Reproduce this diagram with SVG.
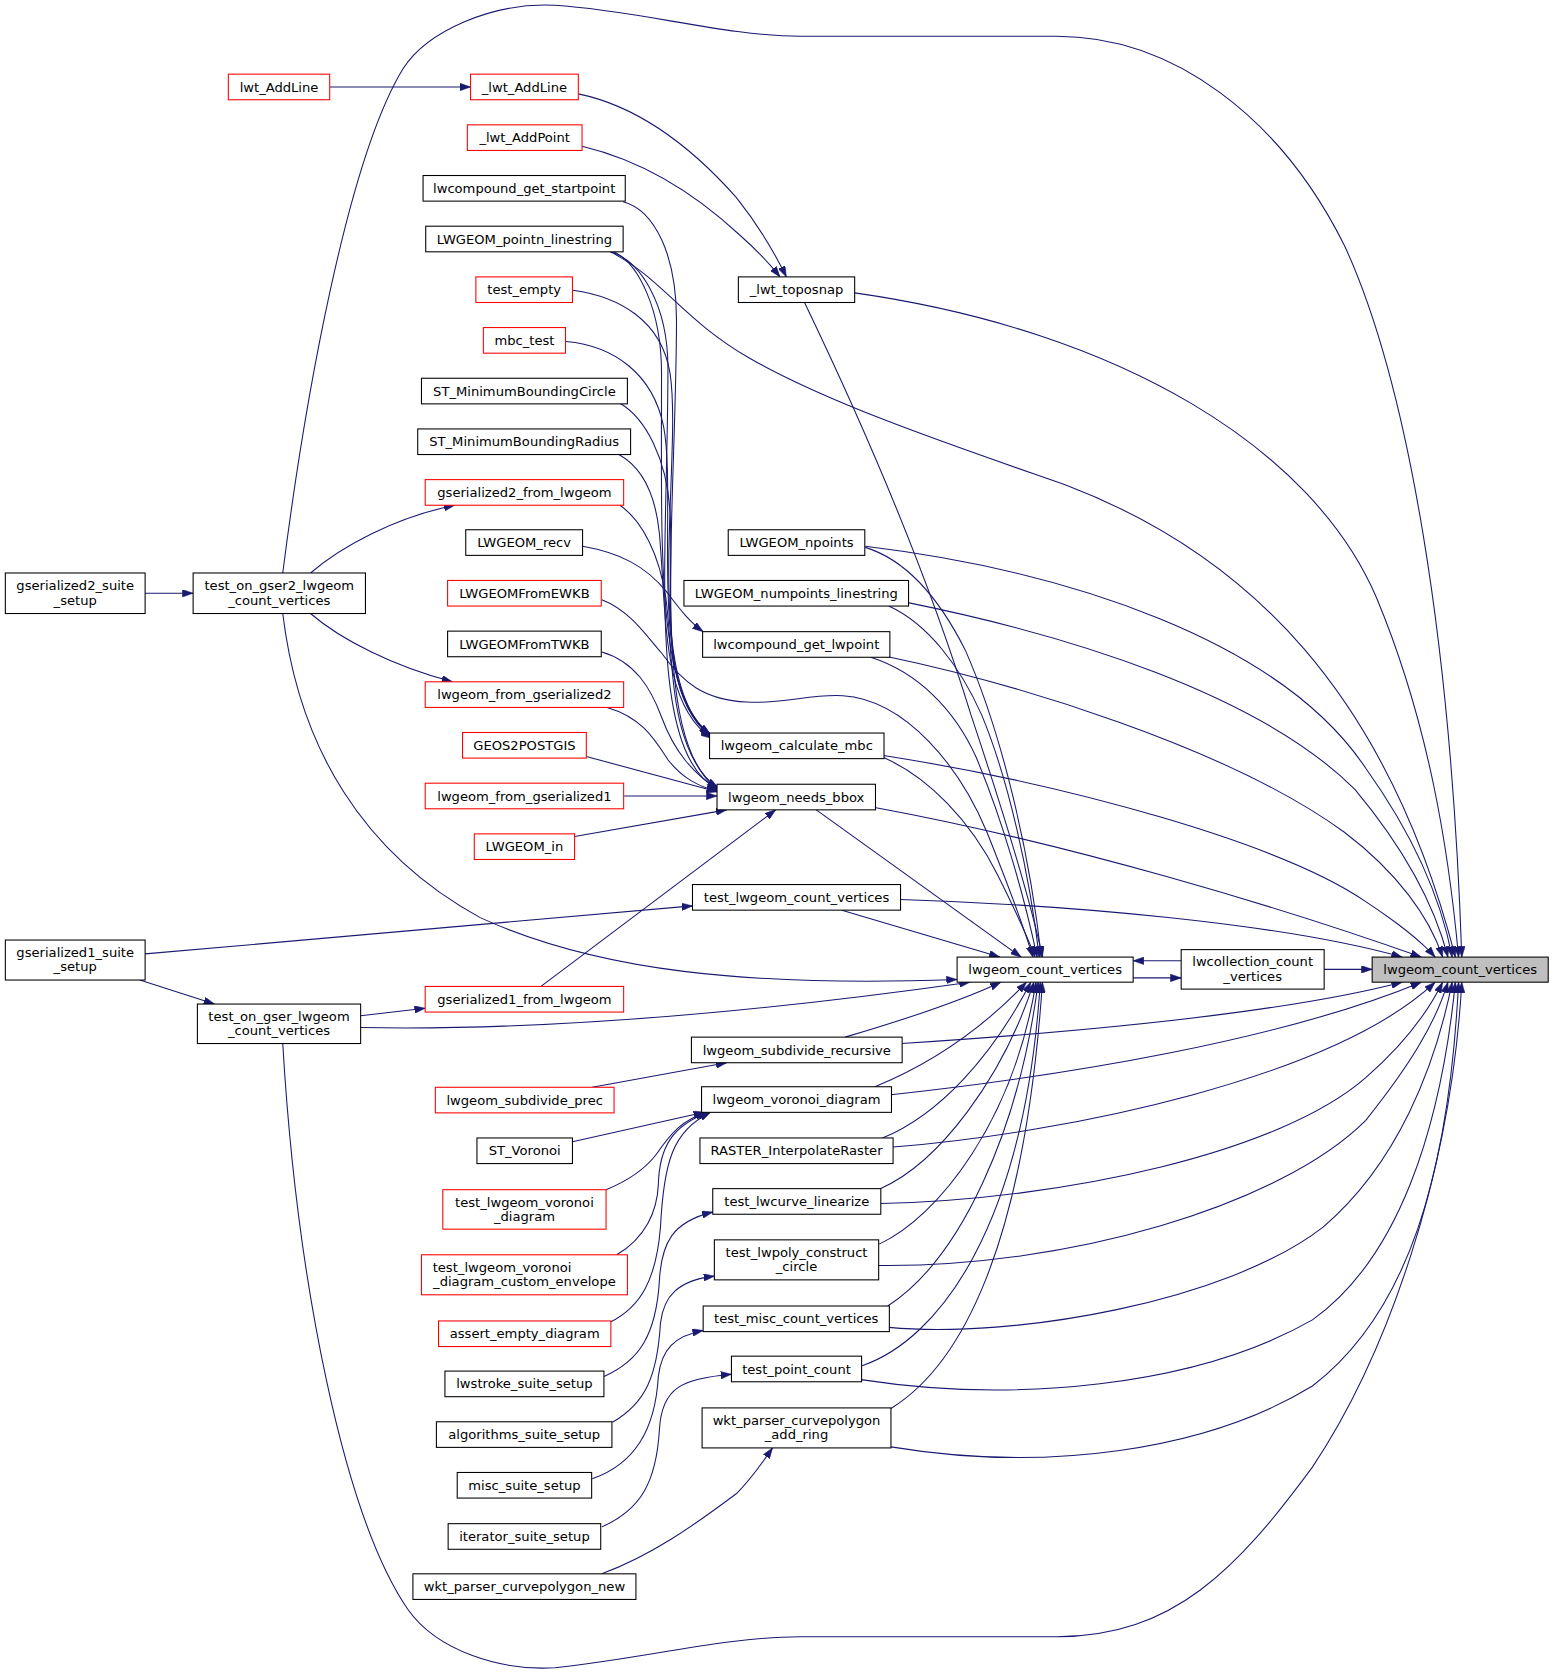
<svg xmlns="http://www.w3.org/2000/svg" width="1553" height="1675" viewBox="0 0 1553 1675">
<defs>
<style>
.n rect{fill:#fff;stroke:#000;stroke-width:1}
.r rect{stroke:#f00}
.root rect{fill:#bfbfbf}
text{font-family:"DejaVu Sans","Liberation Sans",sans-serif;font-size:12.3px;text-anchor:middle;fill:#000}
text.l{text-anchor:start}
#edges path{fill:none;stroke:#191970;stroke-width:1;marker-end:url(#a)}
</style>
<marker id="a" viewBox="0 0 10 7" refX="10" refY="3.5" markerWidth="10" markerHeight="7" markerUnits="userSpaceOnUse" orient="auto"><path d="M0,0 L10,3.5 L0,7 z" fill="#191970" stroke="#191970" stroke-width="0.5"/></marker>
</defs>
<rect x="0" y="0" width="1553" height="1675" fill="#fff"/>
<g transform="scale(1.067)">
<g id="edges">
<path d="M1241,908.5 L1286,908.5"/>
<path d="M1107,900.5 L1062,900.5"/>
<path d="M1062,916.5 L1107,916.5"/>
<path d="M309,81.5 L441,81.5"/>
<path d="M542,88 C600,100 650,140 690,185 C710,210 725,235 737,259.5"/>
<path d="M545.5,137 C600,150 650,180 693,220 C710,235 722,248 731,259.5"/>
<path d="M801,274.5 C1050,310 1230,420 1290,560 C1340,680 1358,800 1367,897"/>
<path d="M754,283.5 C810,400 870,540 910,670 C940,760 965,840 977,897"/>
<path d="M265,537 C285,380 325,150 378,64 C400,30 460,2 520,5 C600,10 680,34 750,34 L990,34 C1100,34 1200,110 1260,230 C1320,360 1360,600 1370,897"/>
<path d="M265,978 C278,1200 322,1420 382,1508 C410,1548 470,1566 520,1563 C600,1555 680,1534 750,1534 L990,1534 C1100,1534 1160,1470 1230,1375 C1300,1270 1360,1100 1370,920.5"/>
<path d="M572,236 C620,260 640,300 703,336 C780,380 900,420 1000,455 C1170,520 1300,650 1364,897"/>
<path d="M811,512 C1000,535 1200,600 1280,720 C1330,790 1352,850 1361,897"/>
<path d="M852,565 C1000,595 1180,650 1270,740 C1320,800 1345,850 1357,897"/>
<path d="M830,615 C950,640 1150,700 1260,780 C1310,818 1340,860 1352,897"/>
<path d="M828,708 C1000,735 1200,790 1280,845 C1310,865 1330,880 1345,897"/>
<path d="M821,757 C1000,790 1200,850 1332,897"/>
<path d="M844,843 C1000,848 1200,865 1314,897"/>
<path d="M845,978 C1000,968 1200,950 1314,920.5"/>
<path d="M835,1026 C1000,1008 1200,975 1332,920.5"/>
<path d="M837,1075 C1000,1062 1250,1010 1345,920.5"/>
<path d="M825,1128 C1000,1124 1200,1080 1280,1010 C1320,975 1340,945 1352,920.5"/>
<path d="M823,1186 C1000,1188 1200,1130 1280,1050 C1320,1000 1345,960 1357,920.5"/>
<path d="M833,1244 C950,1255 1150,1220 1240,1150 C1310,1090 1345,1000 1361,920.5"/>
<path d="M807,1293 C950,1315 1120,1300 1230,1237 C1310,1180 1350,1060 1364,920.5"/>
<path d="M835,1356 C980,1380 1130,1360 1230,1299 C1320,1230 1358,1100 1367,920.5"/>
<path d="M811,513 C850,525 880,560 905,610 C940,690 965,800 976,897"/>
<path d="M833,568 C870,585 900,625 920,670 C945,730 965,820 974,897"/>
<path d="M816,616 C860,630 895,665 915,710 C940,770 960,840 972,897"/>
<path d="M828,710 C870,728 910,770 935,820 C950,850 962,875 970,897"/>
<path d="M564,562 C590,572 605,595 620,612 C640,640 660,656 700,658 C735,660 760,650 790,652 C850,656 900,720 925,780 C945,830 960,870 968,897"/>
<path d="M765,759 L957,897"/>
<path d="M789,853 L937,897"/>
<path d="M265,575 C280,700 340,800 450,860 C560,910 700,925 897,918"/>
<path d="M338,963 C500,966 700,950 909,920.5"/>
<path d="M792,972 C850,955 900,938 938,920.5"/>
<path d="M820,1018.5 C870,998 920,965 962,920.5"/>
<path d="M827,1066.5 C880,1045 930,990 966,920.5"/>
<path d="M825,1114 C880,1090 940,1010 969,920.5"/>
<path d="M824,1166 C880,1140 950,1050 971,920.5"/>
<path d="M832,1224 C900,1180 955,1060 973,920.5"/>
<path d="M808,1280 C880,1255 960,1150 975,920.5"/>
<path d="M835,1320 C900,1280 960,1170 977,920.5"/>
<path d="M136,556 L181,556"/>
<path d="M291,537 C320,512 370,485 426,473.5"/>
<path d="M291,575 C320,600 370,625 424,639"/>
<path d="M136,894 L649,849"/>
<path d="M131,918.5 L201,941"/>
<path d="M338,952 L398.5,945"/>
<path d="M546,512 C580,518 605,530 625,555 C635,568 645,582 659,592"/>
<path d="M564,611 C595,620 610,645 620,672 C632,705 650,725 673,740"/>
<path d="M569,663 C600,672 612,690 626,712 C640,730 655,737 673,742"/>
<path d="M549.5,709 L672,742"/>
<path d="M585,746 L672,746"/>
<path d="M538.5,784 L681,759"/>
<path d="M507,924.5 L727,759"/>
<path d="M555,1019 L681,996"/>
<path d="M536.5,1070 L660,1042.5"/>
<path d="M568,1115 C590,1106 605,1095 615,1082 C630,1060 640,1050 662,1042.5"/>
<path d="M578,1176 C605,1160 616,1135 617,1110 C618,1075 630,1055 664,1042.5"/>
<path d="M572,1239 C600,1225 615,1200 619,1150 C622,1090 630,1060 666,1042.5"/>
<path d="M566,1290 C600,1275 615,1250 618,1200 C620,1165 630,1145 668,1136"/>
<path d="M574,1333 C605,1315 616,1290 619,1240 C622,1215 635,1200 669.5,1196"/>
<path d="M555,1386 C595,1372 614,1340 617,1290 C620,1265 632,1252 659,1247"/>
<path d="M564,1431 C600,1415 615,1390 618,1340 C620,1300 640,1292 685.5,1288"/>
<path d="M564,1475 C610,1458 650,1430 690,1400 C705,1385 715,1370 724,1357"/>
<path d="M584,189 C614,197 634,240 634,300 C634,480 607,700 673,738"/>
<path d="M572,236 C600,244 626,285 626,345 C626,520 605,705 673,740"/>
<path d="M575,236 C598,246 620,290 620,350 C620,520 615,650 665.5,688"/>
<path d="M537,272 C580,278 620,300 628,350 C640,430 600,640 666,689"/>
<path d="M530.5,320 C575,324 612,350 622,400 C635,470 605,650 667,690"/>
<path d="M581,378 C605,392 625,430 628,480 C632,560 615,650 667,691"/>
<path d="M580,426 C600,437 614,460 618,500 C625,580 620,660 667,692"/>
<path d="M581,473.5 C602,488 618,520 624,560 C632,620 625,700 673,741"/>
</g>
<g id="lwt_AddLine" class="n r"><rect x="214" y="69.5" width="95" height="24"/><text x="261.5" y="85.8">lwt_AddLine</text></g>
<g id="_lwt_AddLine" class="n r"><rect x="441" y="69.5" width="101" height="24"/><text x="491.5" y="85.8">_lwt_AddLine</text></g>
<g id="_lwt_AddPoint" class="n r"><rect x="438" y="117" width="107.5" height="24"/><text x="491.75" y="133.3">_lwt_AddPoint</text></g>
<g id="lwcompound_get_startpoint" class="n"><rect x="396.5" y="164.5" width="189.5" height="24"/><text x="491.25" y="180.8">lwcompound_get_startpoint</text></g>
<g id="LWGEOM_pointn_linestring" class="n"><rect x="399" y="212" width="185" height="24"/><text x="491.5" y="228.3">LWGEOM_pointn_linestring</text></g>
<g id="test_empty" class="n r"><rect x="446" y="259.5" width="90.5" height="24"/><text x="491.25" y="275.8">test_empty</text></g>
<g id="mbc_test" class="n r"><rect x="453" y="307" width="77" height="24"/><text x="491.5" y="323.3">mbc_test</text></g>
<g id="ST_MinimumBoundingCircle" class="n"><rect x="395" y="354.5" width="193" height="24"/><text x="491.5" y="370.8">ST_MinimumBoundingCircle</text></g>
<g id="ST_MinimumBoundingRadius" class="n"><rect x="391.5" y="402" width="199.5" height="24"/><text x="491.25" y="418.3">ST_MinimumBoundingRadius</text></g>
<g id="gserialized2_from_lwgeom" class="n r"><rect x="398.5" y="449.5" width="186" height="24"/><text x="491.5" y="465.8">gserialized2_from_lwgeom</text></g>
<g id="LWGEOM_recv" class="n"><rect x="436.5" y="496.5" width="109.5" height="24"/><text x="491.25" y="512.8">LWGEOM_recv</text></g>
<g id="LWGEOMFromEWKB" class="n r"><rect x="419.5" y="544" width="144" height="24"/><text x="491.5" y="560.3">LWGEOMFromEWKB</text></g>
<g id="LWGEOMFromTWKB" class="n"><rect x="419.5" y="591.5" width="144" height="24"/><text x="491.5" y="607.8">LWGEOMFromTWKB</text></g>
<g id="lwgeom_from_gserialized2" class="n r"><rect x="398.5" y="639" width="186" height="24"/><text x="491.5" y="655.3">lwgeom_from_gserialized2</text></g>
<g id="GEOS2POSTGIS" class="n r"><rect x="433.5" y="686.5" width="116" height="24"/><text x="491.5" y="702.8">GEOS2POSTGIS</text></g>
<g id="lwgeom_from_gserialized1" class="n r"><rect x="398.5" y="734" width="186" height="24"/><text x="491.5" y="750.3">lwgeom_from_gserialized1</text></g>
<g id="LWGEOM_in" class="n r"><rect x="444.5" y="781.5" width="94" height="24"/><text x="491.5" y="797.8">LWGEOM_in</text></g>
<g id="gserialized1_from_lwgeom" class="n r"><rect x="398.5" y="924.5" width="186" height="24"/><text x="491.5" y="940.8">gserialized1_from_lwgeom</text></g>
<g id="lwgeom_subdivide_prec" class="n r"><rect x="408" y="1019" width="167.5" height="24"/><text x="491.75" y="1035.3">lwgeom_subdivide_prec</text></g>
<g id="ST_Voronoi" class="n"><rect x="447" y="1066.5" width="89.5" height="24"/><text x="491.75" y="1082.8">ST_Voronoi</text></g>
<g id="test_lwgeom_voronoi_diagram" class="n r"><rect x="415" y="1115" width="153" height="37"/><text x="491.5" y="1130.8">test_lwgeom_voronoi</text><text x="491.5" y="1144.1">_diagram</text></g>
<g id="test_lwgeom_voronoi_diagram_custom_envelope" class="n r"><rect x="395" y="1176" width="193" height="37.5"/><text class="l" x="405.5" y="1192">test_lwgeom_voronoi</text><text x="491.5" y="1205.4">_diagram_custom_envelope</text></g>
<g id="assert_empty_diagram" class="n r"><rect x="411" y="1238" width="161.5" height="24"/><text x="491.75" y="1254.3">assert_empty_diagram</text></g>
<g id="lwstroke_suite_setup" class="n"><rect x="417" y="1285" width="149" height="24"/><text x="491.5" y="1301.3">lwstroke_suite_setup</text></g>
<g id="algorithms_suite_setup" class="n"><rect x="409" y="1332.5" width="164.5" height="24"/><text x="491.25" y="1348.8">algorithms_suite_setup</text></g>
<g id="misc_suite_setup" class="n"><rect x="428.5" y="1380" width="126" height="24"/><text x="491.5" y="1396.3">misc_suite_setup</text></g>
<g id="iterator_suite_setup" class="n"><rect x="420" y="1428" width="143" height="24"/><text x="491.5" y="1444.3">iterator_suite_setup</text></g>
<g id="wkt_parser_curvepolygon_new" class="n"><rect x="387" y="1475" width="209" height="24"/><text x="491.5" y="1491.3">wkt_parser_curvepolygon_new</text></g>
<g id="_lwt_toposnap" class="n"><rect x="692" y="259.5" width="109" height="24"/><text x="746.5" y="275.8">_lwt_toposnap</text></g>
<g id="LWGEOM_npoints" class="n"><rect x="682.5" y="496.5" width="128" height="24"/><text x="746.5" y="512.8">LWGEOM_npoints</text></g>
<g id="LWGEOM_numpoints_linestring" class="n"><rect x="641" y="544" width="210.5" height="24"/><text x="746.25" y="560.3">LWGEOM_numpoints_linestring</text></g>
<g id="lwcompound_get_lwpoint" class="n"><rect x="658.5" y="592" width="175.5" height="24"/><text x="746.25" y="608.3">lwcompound_get_lwpoint</text></g>
<g id="lwgeom_calculate_mbc" class="n"><rect x="665" y="687" width="163.5" height="24"/><text x="746.75" y="703.3">lwgeom_calculate_mbc</text></g>
<g id="lwgeom_needs_bbox" class="n"><rect x="672" y="735" width="148.5" height="24"/><text x="746.25" y="751.3">lwgeom_needs_bbox</text></g>
<g id="test_lwgeom_count_vertices" class="n"><rect x="649" y="829" width="195" height="24"/><text x="746.5" y="845.3">test_lwgeom_count_vertices</text></g>
<g id="lwgeom_subdivide_recursive" class="n"><rect x="648" y="972" width="197.5" height="24"/><text x="746.75" y="988.3">lwgeom_subdivide_recursive</text></g>
<g id="lwgeom_voronoi_diagram" class="n"><rect x="657.5" y="1018.5" width="178" height="24"/><text x="746.5" y="1034.8">lwgeom_voronoi_diagram</text></g>
<g id="RASTER_InterpolateRaster" class="n"><rect x="656" y="1066.5" width="181" height="24"/><text x="746.5" y="1082.8">RASTER_InterpolateRaster</text></g>
<g id="test_lwcurve_linearize" class="n"><rect x="668" y="1114" width="157.5" height="24"/><text x="746.75" y="1130.3">test_lwcurve_linearize</text></g>
<g id="test_lwpoly_construct_circle" class="n"><rect x="669.5" y="1162" width="154" height="37.5"/><text x="746.5" y="1178">test_lwpoly_construct</text><text x="746.5" y="1191.4">_circle</text></g>
<g id="test_misc_count_vertices" class="n"><rect x="659" y="1224" width="174.5" height="24"/><text x="746.25" y="1240.3">test_misc_count_vertices</text></g>
<g id="test_point_count" class="n"><rect x="685.5" y="1271" width="122" height="24"/><text x="746.5" y="1287.3">test_point_count</text></g>
<g id="wkt_parser_curvepolygon_add_ring" class="n"><rect x="658" y="1319.5" width="177" height="37.5"/><text x="746.5" y="1335.5">wkt_parser_curvepolygon</text><text x="746.5" y="1348.9">_add_ring</text></g>
<g id="gserialized2_suite_setup" class="n"><rect x="5" y="537" width="131" height="38"/><text x="70.5" y="553.3">gserialized2_suite</text><text x="70.5" y="566.6">_setup</text></g>
<g id="test_on_gser2_lwgeom_count_vertices" class="n"><rect x="181" y="537" width="161.5" height="38"/><text x="261.75" y="553.3">test_on_gser2_lwgeom</text><text x="261.75" y="566.6">_count_vertices</text></g>
<g id="gserialized1_suite_setup" class="n"><rect x="5" y="881" width="131" height="37.5"/><text x="70.5" y="897">gserialized1_suite</text><text x="70.5" y="910.4">_setup</text></g>
<g id="test_on_gser_lwgeom_count_vertices" class="n"><rect x="185" y="941" width="153" height="37"/><text x="261.5" y="956.8">test_on_gser_lwgeom</text><text x="261.5" y="970.1">_count_vertices</text></g>
<g id="lwgeom_count_vertices_mid" class="n"><rect x="897" y="897" width="165" height="23.5"/><text x="979.5" y="913">lwgeom_count_vertices</text></g>
<g id="lwcollection_count_vertices" class="n"><rect x="1107" y="890" width="134" height="37"/><text x="1174" y="905.8">lwcollection_count</text><text x="1174" y="919.1">_vertices</text></g>
<g id="lwgeom_count_vertices_root" class="n root"><rect x="1286" y="897" width="165" height="23.5"/><text x="1368.5" y="913">lwgeom_count_vertices</text></g>
</g>
</svg>
